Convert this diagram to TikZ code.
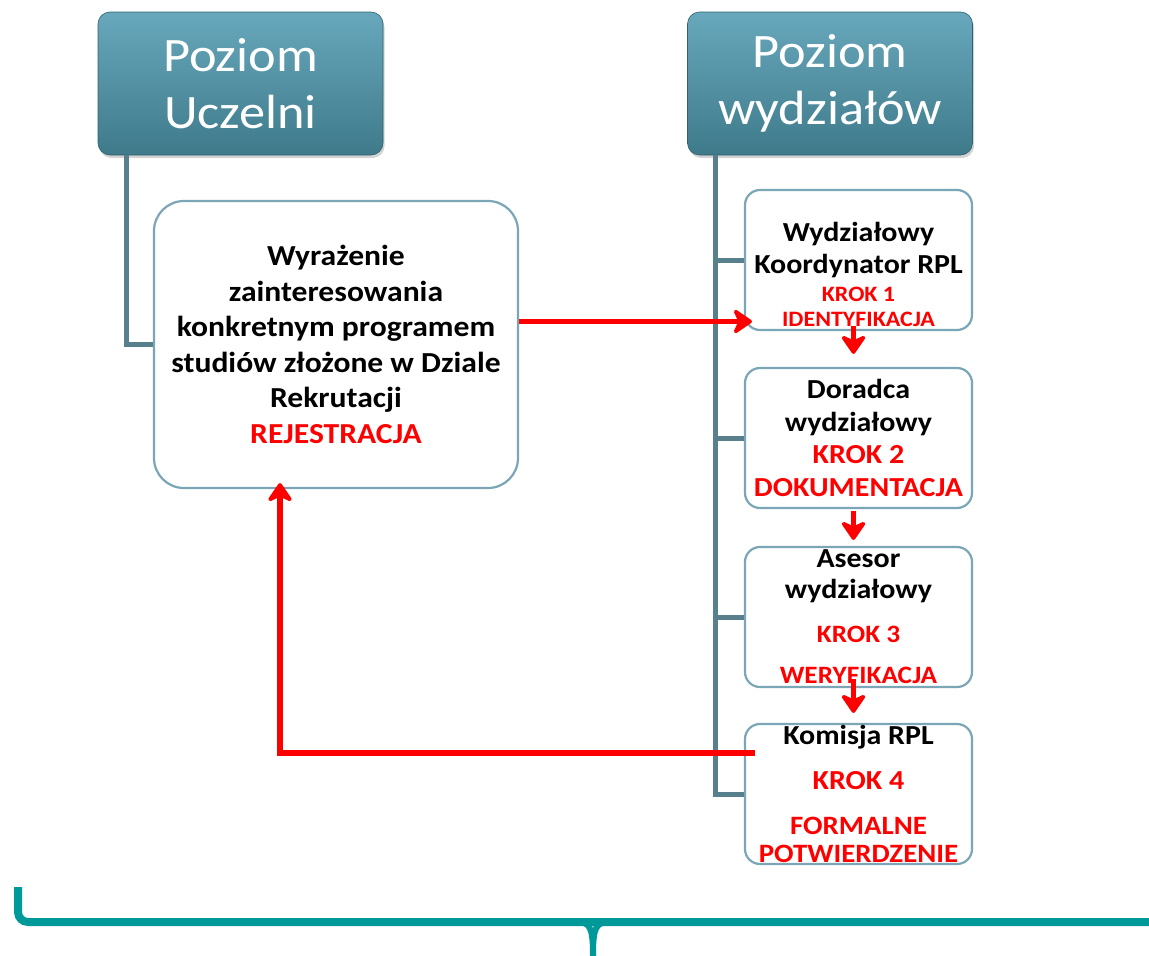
\documentclass[tikz,border=0pt]{standalone}
\usepackage{fontspec}
\setmainfont{Carlito}[FakeStretch=1.09]
\usetikzlibrary{arrows.meta,shadows}
\definecolor{hdrtop}{RGB}{104,168,188}
\definecolor{hdrbot}{RGB}{62,122,138}
\definecolor{boxline}{RGB}{122,166,181}
\definecolor{treeline}{RGB}{88,128,140}
\definecolor{bracecol}{RGB}{0,153,153}
\tikzset{
  hdr/.style={rounded corners=12pt, minimum width=285pt, minimum height=143pt,
    top color=hdrtop, bottom color=hdrbot, draw=hdrbot!80!black, line width=0.6pt,
    drop shadow={opacity=0.35, shadow xshift=1.5pt, shadow yshift=-3pt},
    text=white, align=center, font=\fontsize{48}{57}\selectfont},
  stagebox/.style={draw=boxline, line width=2.2pt, fill=white, rounded corners=15pt,
    minimum width=227pt, minimum height=140pt},
  tree/.style={draw=treeline, line width=5pt},
  redarrow/.style={draw=red, line width=5.5pt, -{Stealth[length=22pt, width=30pt, inset=7pt, round]}},
  redtxt/.style={text=red}
}
\begin{document}
\begin{tikzpicture}[x=1pt, y=-1pt]
	\useasboundingbox (0,0) rectangle (1149,956);
	% naglowki
	\node[hdr] (h1) at (240.5,83.5) {Poziom\\Uczelni};
	\node[hdr] (h2) at (830,83.5) {Poziom\\wydziałów};
	% linie drzewa
	\coordinate (trunk) at ([xshift=28pt]h2.south west);
	\node[stagebox, minimum width=364pt, minimum height=287pt, rounded corners=30pt] (lb) at (336,344.5) {};
	\node[stagebox] (k1) at (858.5,260) {};
	\node[stagebox] (k2) at (858.5,438) {};
	\node[stagebox] (k3) at (858.5,617) {};
	\node[stagebox] (k4) at (858.5,794) {};
	\draw[tree] ([xshift=29pt]h1.south west) |- (lb.west);
	\draw[tree] (trunk) |- (k4.west);
	\foreach \k in {k1,k2,k3}
	\draw[tree] (\k.west -| trunk) -- (\k.west);
	% teksty
	\node[align=center, font=\bfseries\fontsize{29}{35.5}\selectfont] (lbt) at (lb) {Wyrażenie\\zainteresowania\\konkretnym programem\\studiów złożone w Dziale\\Rekrutacji\\\textcolor{red}{REJESTRACJA}};
	\node[align=center, font=\bfseries\fontsize{27.5}{32}\selectfont] (k1t) at ([yshift=-14pt]k1.center) {Wydziałowy\\Koordynator RPL\\[-4pt]{\fontsize{22}{25}\selectfont\textcolor{red}{KROK 1}}\\[-7pt]{\fontsize{22}{25}\selectfont\textcolor{red}{IDENTYFIKACJA}}};
	\node[align=center, font=\bfseries\fontsize{27.5}{32.5}\selectfont] (k2t) at (k2) {Doradca\\wydziałowy\\\textcolor{red}{KROK 2}\\\textcolor{red}{DOKUMENTACJA}};
	\node[align=center, font=\bfseries\fontsize{27.5}{31}\selectfont] (k3t) at (k3) {Asesor\\wydziałowy\\[13pt]{\fontsize{25}{31}\selectfont\textcolor{red}{KROK 3}}\\[10pt]{\fontsize{25}{31}\selectfont\textcolor{red}{WERYFIKACJA}}};
	\node[align=center, font=\bfseries\fontsize{27.5}{30}\selectfont] (k4t) at (k4) {Komisja RPL\\[15pt]\textcolor{red}{KROK 4}\\[15pt]{\fontsize{26.5}{28}\selectfont\textcolor{red}{FORMALNE}}\\[-2pt]{\fontsize{26.5}{28}\selectfont\textcolor{red}{POTWIERDZENIE}}};
	% strzalki
	\draw[redarrow, shorten >=-8pt] ([yshift=23pt]lb.east) -- ([yshift=23pt]lb.east -| k1.west);
	\draw[redarrow] ([xshift=-5pt,yshift=5pt]k1.south) -- ([xshift=-5pt,yshift=13pt]k2.north);
	\draw[redarrow] ([xshift=-5pt,yshift=-2pt]k2.south) -- ([xshift=-5pt,yshift=6pt]k3.north);
	\draw[redarrow] ([xshift=-5pt,yshift=9pt]k3.south) -- ([xshift=-5pt,yshift=10pt]k4.north);
	\draw[redarrow] ([xshift=11pt,yshift=41pt]k4.west) -| ([xshift=-56pt,yshift=6pt]lb.south);
	% klamra
	\draw[draw=bracecol, line width=8pt, rounded corners=10pt] (18,887) |- (1149,922);
	\draw[draw=bracecol, line width=6pt] (575,922) .. controls (590,922) and (593,926) .. (593,956);
	\draw[draw=bracecol, line width=6pt] (611,922) .. controls (596,922) and (593,926) .. (593,956);
\end{tikzpicture}
\end{document}
